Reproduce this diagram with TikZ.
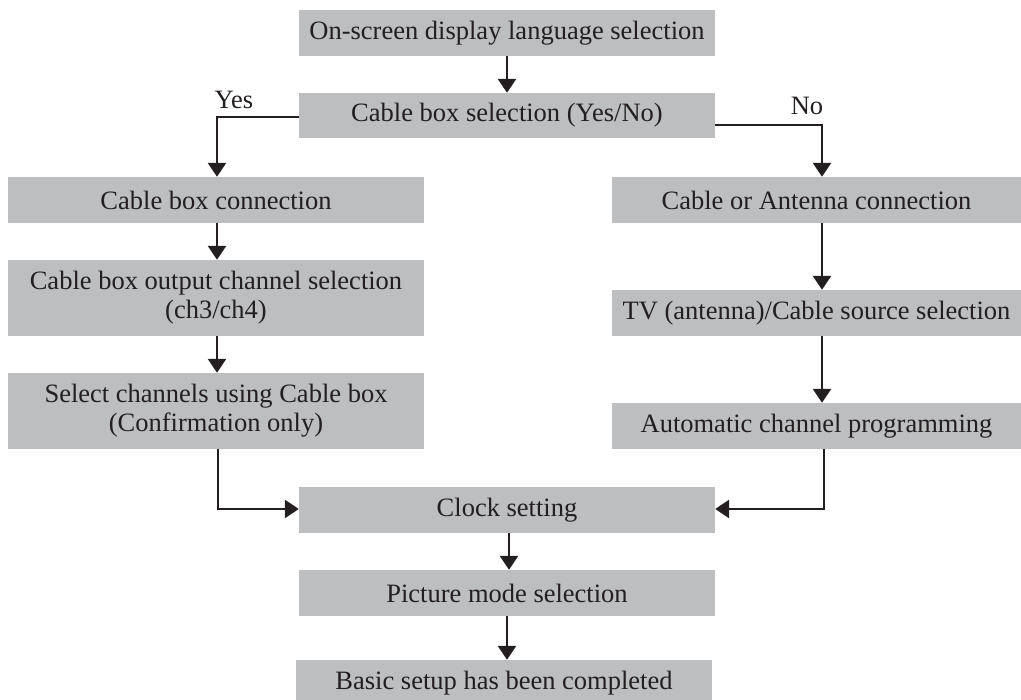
\documentclass[tikz,border=0pt]{standalone}
\usepackage{fontspec}
\setmainfont{Liberation Serif}
\usetikzlibrary{arrows.meta}
\definecolor{boxgray}{HTML}{BCBEC0}
\definecolor{ink}{HTML}{231F20}
\tikzset{
  stepbox/.style={rectangle, fill=boxgray, inner sep=0pt, text=ink, align=center,
    minimum width=416pt, minimum height=46pt,
    font=\fontsize{26.5}{29}\selectfont},
  tallbox/.style={stepbox, minimum height=76pt},
  rightbox/.style={stepbox, minimum width=409pt},
  flow/.style={draw=ink, line width=2.8pt, -{Triangle[length=14pt,width=18pt]}},
  lbl/.style={inner sep=0pt, text=ink, font=\fontsize{26.5}{29}\selectfont}
}
\begin{document}
\begin{tikzpicture}[x=1pt,y=-1pt]
\useasboundingbox (0,0) rectangle (1021,700);
\node[stepbox] (B1) at (507,33) {On-screen display language selection};
\node[stepbox, minimum height=45pt] (B2) at (507,115.5) {Cable box selection (Yes/No)};
\node[stepbox] (B3) at (216,200) {Cable box connection};
\node[rightbox] (B4) at (816.5,200) {Cable or Antenna connection};
\node[tallbox] (B5) at (216,298) {Cable box output channel selection\\(ch3/ch4)};
\node[rightbox] (B6) at (816.5,313) {TV (antenna)/Cable source selection};
\node[tallbox] (B7) at (216,411) {Select channels using Cable box\\(Confirmation only)};
\node[rightbox] (B8) at (816.5,426) {Automatic channel programming};
\node[stepbox] (B9) at (507,510) {Clock setting};
\node[stepbox] (B10) at (507,593) {Picture mode selection};
\node[stepbox] (B11) at (504,683) {Basic setup has been completed};
\node[lbl] (yes) at (234,100) {Yes};
\node[lbl] (no) at (807,106) {No};
\draw[flow] (B1.south) -- (B2.north);
\draw[flow] ([yshift=-1.5pt]B2.west) -| ([xshift=1pt]B3.north);
\draw[flow] ([yshift=-9.5pt]B2.east) -| ([xshift=5.5pt]B4.north);
\draw[flow] ([xshift=1pt]B3.south) -- ([xshift=1pt]B5.north);
\draw[flow] ([xshift=1pt]B5.south) -- ([xshift=1pt]B7.north);
\draw[flow] ([xshift=5.5pt]B4.south) -- ([xshift=5.5pt]B6.north);
\draw[flow] ([xshift=5.5pt]B6.south) -- ([xshift=5.5pt]B8.north);
\draw[flow] ([xshift=2pt]B7.south) |- ([yshift=1pt]B9.west);
\draw[flow] ([xshift=7.5pt]B8.south) |- ([yshift=1pt]B9.east);
\draw[flow] ([xshift=2pt]B9.south) -- ([xshift=2pt]B10.north);
\draw[flow] (B10.south) -- ([xshift=3pt]B11.north);
\end{tikzpicture}
\end{document}
